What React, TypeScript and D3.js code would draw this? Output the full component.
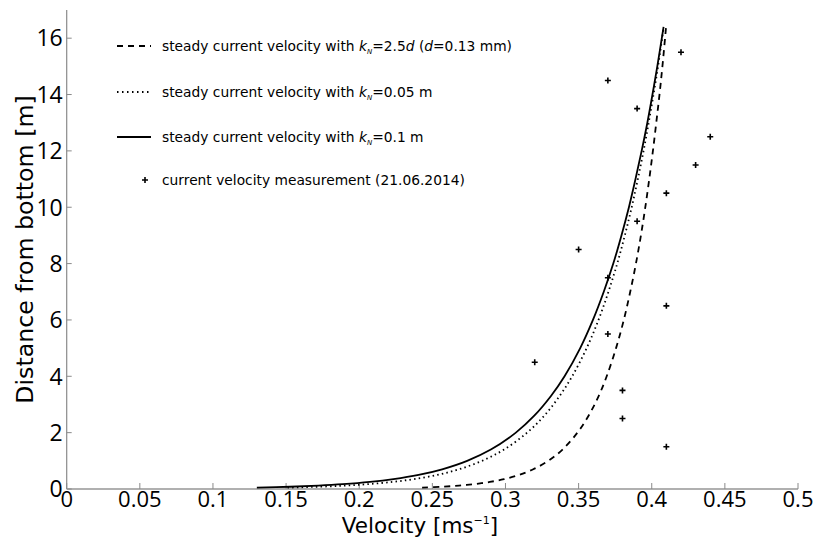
import React from "react";
import * as d3 from "d3";

const heights = [0.05, 0.08, 0.12, 0.17, 0.25, 0.35, 0.5, 0.7, 1, 1.4, 2, 2.6, 3.3, 4, 5, 6, 7, 8, 9, 10, 11, 12, 13, 14, 15, 16.4];
const uDashed = [0.243, 0.2565, 0.2682, 0.2782, 0.2893, 0.299, 0.3093, 0.319, 0.3293, 0.339, 0.3492, 0.3568, 0.3637, 0.3692, 0.3756, 0.3809, 0.3853, 0.3892, 0.3926, 0.3956, 0.3983, 0.4008, 0.4031, 0.4053, 0.4073, 0.4098];
const uDotted = [0.151, 0.1719, 0.1899, 0.2054, 0.2225, 0.2374, 0.2533, 0.2682, 0.284, 0.299, 0.3148, 0.3265, 0.337, 0.3456, 0.3555, 0.3636, 0.3704, 0.3764, 0.3816, 0.3863, 0.3905, 0.3944, 0.3979, 0.4012, 0.4043, 0.4082];
const uSolid = [0.13, 0.1526, 0.1721, 0.1888, 0.2073, 0.2234, 0.2406, 0.2567, 0.2738, 0.29, 0.3071, 0.3197, 0.3311, 0.3404, 0.3511, 0.3598, 0.3672, 0.3737, 0.3793, 0.3844, 0.3889, 0.3931, 0.397, 0.4005, 0.4038, 0.4081];

const measU = [0.42, 0.37, 0.39, 0.44, 0.43, 0.41, 0.39, 0.35, 0.37, 0.41, 0.37, 0.32, 0.38, 0.38, 0.41];
const measZ = [15.5, 14.5, 13.5, 12.5, 11.5, 10.5, 9.5, 8.5, 7.5, 6.5, 5.5, 4.5, 3.5, 2.5, 1.5];

const xTicks = [0, 0.05, 0.1, 0.15, 0.2, 0.25, 0.3, 0.35, 0.4, 0.45, 0.5];
const yTicks = [0, 2, 4, 6, 8, 10, 12, 14, 16];

const W = 818, H = 540;
const x = d3.scaleLinear().domain([0, 0.5]).range([66.7, 798]);
const y = d3.scaleLinear().domain([0, 17]).range([489, 10]);

const tickFont = "'Open Sans', 'Liberation Sans', sans-serif";
const labelFont = "'DejaVu Sans', sans-serif";
const legendFont = "'DejaVu Sans', Verdana, sans-serif";

export default function App() {
  const line = d3
    .line<[number, number]>()
    .x((d) => x(d[0]))
    .y((d) => y(d[1]))
    .curve(d3.curveCatmullRom.alpha(0.5));
  const mk = (u: number[]) => line(u.map((v, i) => [v, heights[i]] as [number, number])) || "";

  const legend = [
    { y: 46, dash: "6,5", main: "=2.5", tail: true, rest: "=0.13 mm)" },
    { y: 92, dash: "1.5,3.5", main: "=0.05 m" },
    { y: 137, dash: "", main: "=0.1 m" },
  ];

  return (
    <div style={{ position: "fixed", left: 0, top: 0 }}>
      <svg width={W} height={H} style={{ display: "block", background: "#fff" }}>
        {/* axes */}
        <line x1={x(0)} x2={x(0)} y1={y(17)} y2={y(0)} stroke="#8a8a8a" strokeWidth={1.2} />
        <line x1={x(0)} x2={x(0.5)} y1={y(0)} y2={y(0)} stroke="#b0b0b0" strokeWidth={2.2} />
        {yTicks.map((t) => (
          <g key={"y" + t}>
            <line x1={x(0)} x2={x(0) + 5} y1={y(t)} y2={y(t)} stroke="#8a8a8a" />
            <text x={x(0) - 4} y={y(t)} dy="0.36em" textAnchor="end" fontFamily={tickFont} fontSize={23} fill="#000">
              {t}
            </text>
          </g>
        ))}
        {xTicks.map((t) => (
          <g key={"x" + t}>
            <line x1={x(t)} x2={x(t)} y1={y(0)} y2={y(0) - 6} stroke="#8a8a8a" />
            <text x={x(t)} y={507} textAnchor="middle" fontFamily={tickFont} fontSize={22} fill="#000">
              {t}
            </text>
          </g>
        ))}
        <text x={420} y={533} textAnchor="middle" fontFamily={labelFont} fontSize={21.5} fill="#000">
          Velocity [ms<tspan dy={-9} fontSize={11}>−1</tspan><tspan dy={9}>]</tspan>
        </text>
        <text
          transform={`translate(25,${y(8.5)}) rotate(-90)`}
          dy="0.35em"
          textAnchor="middle"
          fontFamily={labelFont}
          fontSize={23.7}
          fill="#000"
        >
          Distance from bottom [m]
        </text>

        {/* curves */}
        <path d={mk(uDashed)} fill="none" stroke="#000" strokeWidth={1.8} strokeDasharray="6,5" />
        <path d={mk(uDotted)} fill="none" stroke="#000" strokeWidth={1.8} strokeDasharray="1.5,3.2" />
        <path d={mk(uSolid)} fill="none" stroke="#000" strokeWidth={1.8} />

        {/* measurements */}
        {measU.map((u, i) => (
          <path
            key={"m" + i}
            d={`M${x(u) - 3},${y(measZ[i])}h6M${x(u)},${y(measZ[i]) - 3}v6`}
            stroke="#000"
            strokeWidth={1.6}
          />
        ))}

        {/* legend */}
        {legend.map((l, i) => (
          <g key={"l" + i}>
            <line x1={117} x2={151} y1={l.y} y2={l.y} stroke="#000" strokeWidth={1.8} strokeDasharray={l.dash || undefined} />
            <text x={162} y={l.y} dy="0.35em" fontFamily={legendFont} fontSize={13.8} fill="#000">
              steady current velocity with <tspan fontStyle="italic">k</tspan>
              <tspan fontSize={7} dy={3} fontStyle="italic">N</tspan>
              <tspan dy={-3}>{l.main}</tspan>
              {l.tail ? (
                <>
                  <tspan fontStyle="italic">d</tspan>
                  <tspan> (</tspan>
                  <tspan fontStyle="italic">d</tspan>
                  <tspan>{l.rest}</tspan>
                </>
              ) : null}
            </text>
          </g>
        ))}
        <path d={`M142,180h6M145,177v6`} stroke="#000" strokeWidth={1.6} />
        <text x={162} y={180} dy="0.35em" fontFamily={legendFont} fontSize={13.8} fill="#000">
          current velocity measurement (21.06.2014)
        </text>
      </svg>
    </div>
  );
}
